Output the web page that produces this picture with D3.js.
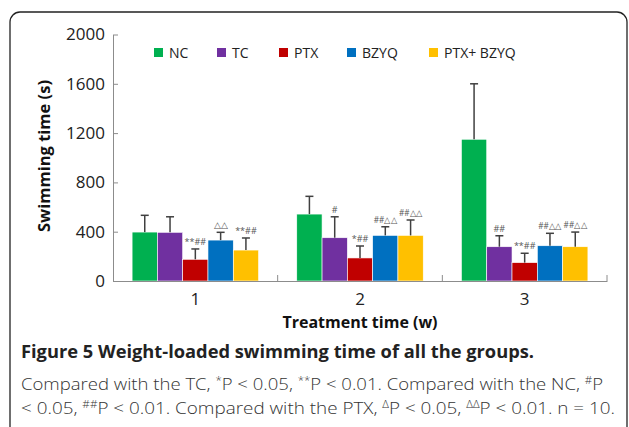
<!DOCTYPE html>
<html><head><meta charset="utf-8">
<script src="https://cdn.jsdelivr.net/npm/d3@7"></script>
<style>
body{margin:0;background:#fff;}
svg{display:block;}
</style></head>
<body>
<svg id="chart" width="629" height="427"></svg>
<script>
const groups = ["1", "2", "3"];
const seriesNames = ["NC", "TC", "PTX", "BZYQ", "PTX+ BZYQ"];
const seriesColors = ["#00B050", "#7030A0", "#C00000", "#0070C0", "#FFC000"];
const ncMean = [397, 543, 1150];
const ncSD = [136, 144, 450];
const tcMean = [395, 351, 278];
const tcSD = [126, 170, 89];
const ptxMean = [176, 187, 149];
const ptxSD = [84, 97, 76];
const bzyqMean = [332, 370, 286];
const bzyqSD = [63, 70, 101];
const comboMean = [251, 370, 278];
const comboSD = [98, 125, 119];
const ncMarks = ["", "", ""];
const tcMarks = ["", "#", "##"];
const ptxMarks = ["**##", "*##", "**##"];
const bzyqMarks = ["△△", "##△△", "##△△"];
const comboMarks = ["**##", "##△△", "##△△"];
const yTicks = [0, 400, 800, 1200, 1600, 2000];

const means = [ncMean, tcMean, ptxMean, bzyqMean, comboMean];
const sds = [ncSD, tcSD, ptxSD, bzyqSD, comboSD];
const marks = [ncMarks, tcMarks, ptxMarks, bzyqMarks, comboMarks];

const rows = [];
seriesNames.forEach((s, i) => groups.forEach((g, j) => rows.push({
  series: s, si: i, group: g, mean: means[i][j], sd: sds[i][j], mark: marks[i][j]
})));

const svg = d3.select("#chart");
const FONT = "'Open Sans', 'Noto Sans', sans-serif";

// frame
svg.append("rect").attr("x", 10).attr("y", 12).attr("width", 617).attr("height", 440)
  .attr("rx", 10).attr("fill", "none").attr("stroke", "#222").attr("stroke-width", 1.3);

const x0 = d3.scaleBand().domain(groups).range([113, 607]).paddingInner(0).paddingOuter(0);
const x1 = d3.scaleBand().domain(seriesNames).range([0, x0.bandwidth()]).paddingInner(0).paddingOuter(0.755);
const y = d3.scaleLinear().domain([0, 2000]).range([281, 34.5]);
const color = d3.scaleOrdinal().domain(seriesNames).range(seriesColors);

const axisColor = "#8c8c8c";

// bars
const g = svg.append("g");
g.selectAll("rect.bar").data(rows).join("rect").attr("class", "bar")
  .attr("x", d => x0(d.group) + x1(d.series))
  .attr("y", d => y(d.mean))
  .attr("width", x1.bandwidth())
  .attr("height", d => y(0) - y(d.mean))
  .attr("fill", d => color(d.series))
  .attr("stroke", "#fff").attr("stroke-width", 0.6);

// error bars
const eb = g.selectAll("g.err").data(rows).join("g").attr("class", "err")
  .attr("transform", d => `translate(${x0(d.group) + x1(d.series) + x1.bandwidth() / 2},0)`);
eb.append("line").attr("x1", 0).attr("x2", 0)
  .attr("y1", d => y(d.mean)).attr("y2", d => y(d.mean + d.sd))
  .attr("stroke", "#404040").attr("stroke-width", 1.5);
eb.append("line").attr("x1", -4).attr("x2", 4)
  .attr("y1", d => y(d.mean + d.sd)).attr("y2", d => y(d.mean + d.sd))
  .attr("stroke", "#404040").attr("stroke-width", 1.5);
const markText = eb.append("text").attr("x", 0).attr("y", d => y(d.mean + d.sd) - 4)
  .attr("text-anchor", "middle").attr("font-family", FONT).attr("font-size", 9)
  .attr("fill", "#555").text(d => d.mark);
markText.each(function () {
  const w = this.getComputedTextLength();
  const maxW = x1.bandwidth() - 2;
  if (w > maxW) d3.select(this).attr("textLength", maxW).attr("lengthAdjust", "spacingAndGlyphs");
});

// y axis
const yAxis = svg.append("g").attr("transform", "translate(113,0)")
  .call(d3.axisLeft(y).tickValues(yTicks).tickSizeInner(-5).tickSizeOuter(0).tickPadding(8).tickFormat(d3.format("d")));
yAxis.select(".domain").attr("stroke", axisColor);
yAxis.selectAll(".tick line").attr("stroke", axisColor);
yAxis.selectAll(".tick text").attr("font-family", FONT).attr("font-size", 17).attr("fill", "#222");

// x axis
const xAxis = svg.append("g").attr("transform", "translate(0,281)")
  .call(d3.axisBottom(x0).tickSize(0).tickPadding(12));
xAxis.select(".domain").attr("stroke", axisColor).attr("stroke-width", 1.2);
xAxis.selectAll(".tick text").attr("font-family", FONT).attr("font-size", 17).attr("fill", "#222");
xAxis.selectAll("line.sep").data(groups).join("line").attr("class", "sep")
  .attr("x1", d => x0(d) + x0.bandwidth()).attr("x2", d => x0(d) + x0.bandwidth())
  .attr("y1", 0).attr("y2", -6).attr("stroke", axisColor);

// axis titles
svg.append("text").attr("transform", "translate(50,156) rotate(-90)")
  .attr("text-anchor", "middle").attr("font-family", FONT).attr("font-weight", "bold")
  .attr("font-size", 16.5).attr("fill", "#111").text("Swimming time (s)");
svg.append("text").attr("x", 360).attr("y", 328)
  .attr("text-anchor", "middle").attr("font-family", FONT).attr("font-weight", "bold")
  .attr("font-size", 16).attr("fill", "#111").text("Treatment time (w)");

// legend
const legX = [154, 217, 279, 347, 429];
const leg = svg.append("g").selectAll("g").data(seriesNames).join("g")
  .attr("transform", (d, i) => `translate(${legX[i]},48)`);
leg.append("rect").attr("width", 9).attr("height", 9).attr("fill", d => color(d));
leg.append("text").attr("x", 15).attr("y", 9.5).attr("font-family", FONT).attr("font-size", 14)
  .attr("fill", "#222").text(d => d);

// caption
function fitWidth(t, target) {
  const w = t.node().getComputedTextLength();
  if (w > 0) t.attr("textLength", target).attr("lengthAdjust", "spacingAndGlyphs");
}
const cap1 = svg.append("text").attr("x", 21).attr("y", 358).attr("font-family", FONT).attr("font-weight", "bold")
  .attr("font-size", 17.5).attr("fill", "#222").text("Figure 5 Weight-loaded swimming time of all the groups.");
fitWidth(cap1, 513);

function addParts(t, parts) {
  parts.forEach(p => {
    const ts = t.append("tspan").text(p[0]);
    if (p[1]) ts.attr("font-size", 10.5).attr("dy", -6);
    if (p[2]) ts.attr("dy", 6);
  });
}
const cap2 = svg.append("text").attr("x", 21).attr("y", 390).attr("font-family", FONT)
  .attr("font-size", 17).attr("font-weight", 300).attr("fill", "#333");
addParts(cap2, [
  ["Compared with the TC, "], ["*", 1], ["P < 0.05, ", 0, 1], ["**", 1], ["P < 0.01. Compared with the NC, ", 0, 1], ["#", 1], ["P", 0, 1]
]);
fitWidth(cap2, 582);
const cap3 = svg.append("text").attr("x", 21).attr("y", 414).attr("font-family", FONT)
  .attr("font-size", 17).attr("font-weight", 300).attr("fill", "#333");
addParts(cap3, [
  ["< 0.05, "], ["##", 1], ["P < 0.01. Compared with the PTX, ", 0, 1], ["Δ", 1], ["P < 0.05, ", 0, 1], ["ΔΔ", 1], ["P < 0.01. n = 10.", 0, 1]
]);
fitWidth(cap3, 594);
</script>
</body></html>
